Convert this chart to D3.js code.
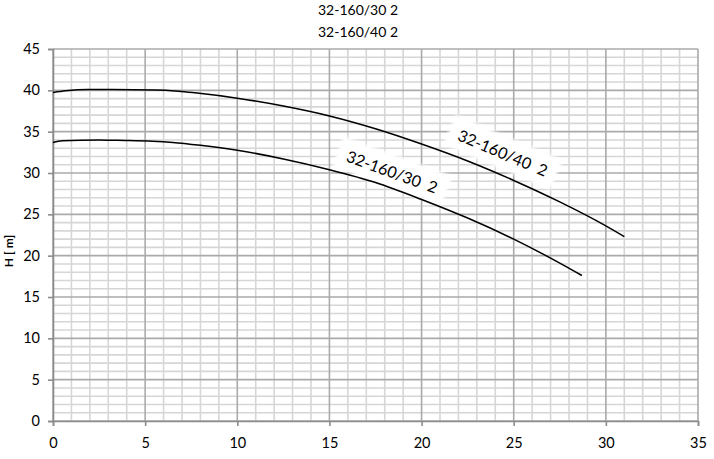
<!DOCTYPE html>
<html><head><meta charset="utf-8">
<script src="https://cdn.jsdelivr.net/npm/d3@7/dist/d3.min.js"></script>
<style>body{margin:0;background:#fff}svg{display:block}</style>
</head><body><svg id="c" width="714" height="459"></svg>
<script>
const titles = ["32-160/30 2", "32-160/40 2"];
const yLabel = "H [ m]";
const xTicks = [0, 5, 10, 15, 20, 25, 30, 35];
const yTicks = [0, 5, 10, 15, 20, 25, 30, 35, 40, 45];
const q40 = [0, 0.7, 1.9, 5.5, 6.8, 7.7, 10, 12.5, 15, 17.5, 20, 22.5, 25, 27.5, 30, 31];
const h40 = [39.75, 39.95, 40.1, 40.05, 39.9, 39.7, 39.05, 38.1, 36.9, 35.35, 33.5, 31.45, 29.1, 26.5, 23.6, 22.3];
const q30 = [0, 0.5, 2.5, 3.5, 5.4, 6.5, 8, 10, 12.5, 15, 17.5, 20, 22.5, 25, 27.5, 28.7];
const h30 = [33.7, 33.9, 34.0, 33.95, 33.85, 33.7, 33.35, 32.75, 31.7, 30.4, 28.85, 26.8, 24.55, 22.0, 19.1, 17.6];
const curveLabels = [
  {name: "32-160/40 2", q: 24.4, h: 32.4, angle: 23},
  {name: "32-160/30 2", q: 18.4, h: 30.1, angle: 20}
];

const svg = d3.select("#c");
const L = 53, R = 698, T = 49, B = 421;
const x = d3.scaleLinear().domain([0, 35]).range([L, R]);
const y = d3.scaleLinear().domain([0, 45]).range([B, T]);
const font = "Lato, 'Open Sans', sans-serif";

const g = svg.append("g");
g.selectAll(".vx").data(d3.range(0, 36).filter(d => d % 5)).enter().append("line")
  .attr("x1", d => x(d)).attr("x2", d => x(d)).attr("y1", T).attr("y2", B)
  .attr("stroke", "#d6d6d6").attr("stroke-width", 1.6);
g.selectAll(".hy").data(d3.range(0, 46).filter(d => d % 5)).enter().append("line")
  .attr("y1", d => y(d)).attr("y2", d => y(d)).attr("x1", L).attr("x2", R)
  .attr("stroke", "#d6d6d6").attr("stroke-width", 1.6);
g.selectAll(".vxm").data(d3.range(0, 36, 5)).enter().append("line")
  .attr("x1", d => x(d)).attr("x2", d => x(d)).attr("y1", T).attr("y2", B)
  .attr("stroke", "#aaaaaa").attr("stroke-width", 1.6);
g.selectAll(".hym").data(d3.range(0, 46, 5)).enter().append("line")
  .attr("y1", d => y(d)).attr("y2", d => y(d)).attr("x1", L).attr("x2", R)
  .attr("stroke", "#aaaaaa").attr("stroke-width", 1.6);

const xAxis = svg.append("g").attr("transform", `translate(0,${B})`)
  .call(d3.axisBottom(x).tickValues(xTicks).tickSize(5).tickPadding(8).tickFormat(d3.format("d")));
const yAxis = svg.append("g").attr("transform", `translate(${L},0)`)
  .call(d3.axisLeft(y).tickValues(yTicks).tickSize(5).tickPadding(8).tickFormat(d3.format("d")));
[xAxis, yAxis].forEach(a => {
  a.select(".domain").attr("stroke", "#8c8c8c").attr("stroke-width", 1.6);
  a.selectAll(".tick line").attr("stroke", "#8c8c8c").attr("stroke-width", 1.6);
  a.selectAll("text").attr("font-family", font).attr("font-size", 14.5).attr("fill", "#000");
});
xAxis.selectAll("text").attr("dy", "0.95em");

// curve labels with white backgrounds (drawn beneath the curves)
const defs = svg.append("defs");
defs.append("filter").attr("id", "blur").append("feGaussianBlur").attr("stdDeviation", 1.5);
curveLabels.forEach(c => {
  const lg = svg.append("g").attr("transform", `translate(${x(c.q)},${y(c.h)}) rotate(${c.angle})`);
  lg.append("rect").attr("x", -58).attr("y", -17).attr("width", 116).attr("height", 32)
    .attr("fill", "#fff").attr("filter", "url(#blur)");
  lg.append("text").attr("text-anchor", "middle").attr("dy", "0.35em")
    .attr("font-family", font).attr("font-size", 16).attr("word-spacing", 4).attr("fill", "#000").text(c.name);
});

const line = d3.line().x(d => x(d[0])).y(d => y(d[1])).curve(d3.curveMonotoneX);
const s40 = q40.map((q, i) => [q, h40[i]]);
const s30 = q30.map((q, i) => [q, h30[i]]);
[s40, s30].forEach(s => {
  svg.append("path").datum(s).attr("d", line).attr("fill", "none")
    .attr("stroke", "#000").attr("stroke-width", 1.5);
});

titles.forEach((t, i) => {
  svg.append("text").attr("x", 358).attr("y", 15 + i * 22).attr("text-anchor", "middle")
    .attr("font-family", font).attr("font-size", 14).attr("fill", "#000").text(t);
});

svg.append("text").attr("transform", `translate(13,251) rotate(-90)`).attr("text-anchor", "middle")
  .attr("font-family", font).attr("font-size", 12).attr("font-weight", "bold").attr("fill", "#000").text(yLabel);
</script></body></html>
